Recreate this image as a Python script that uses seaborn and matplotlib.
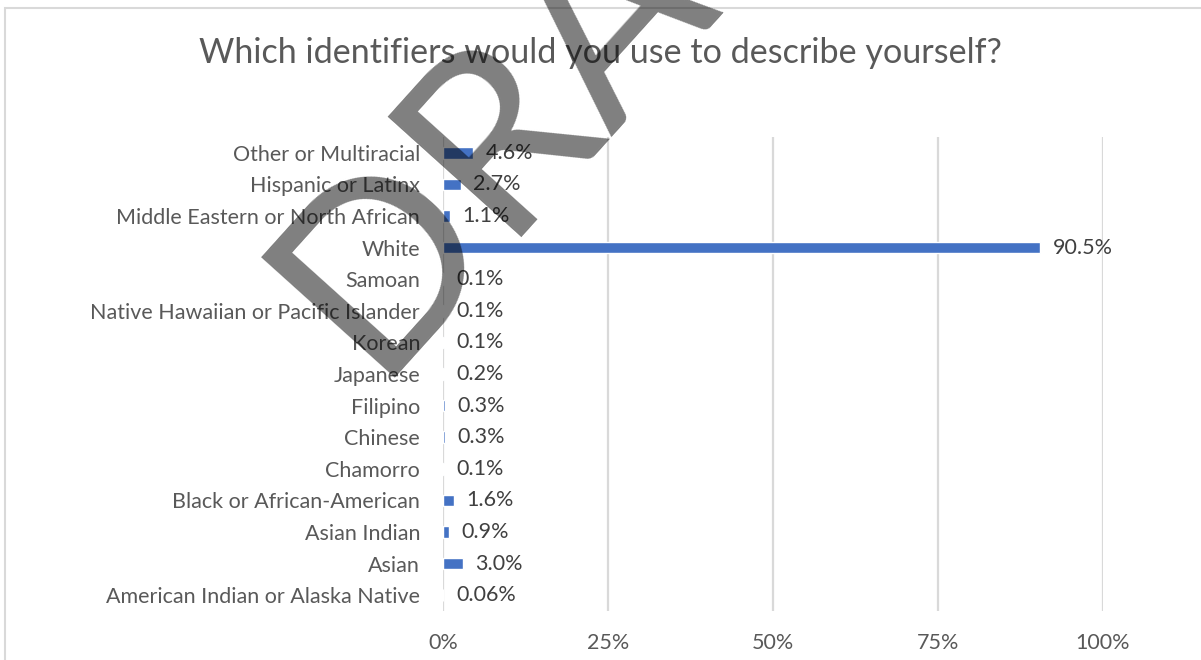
import matplotlib
matplotlib.use("Agg")
import matplotlib.pyplot as plt
import seaborn as sns
from matplotlib.patches import Rectangle

# data, top to bottom as in the chart
categories = [
    "Other or Multiracial",
    "Hispanic or Latinx",
    "Middle Eastern or North African",
    "White",
    "Samoan",
    "Native Hawaiian or Pacific Islander",
    "Korean",
    "Japanese",
    "Filipino",
    "Chinese",
    "Chamorro",
    "Black or African-American",
    "Asian Indian",
    "Asian",
    "American Indian or Alaska Native",
]
percents = [4.6, 2.7, 1.1, 90.5, 0.1, 0.1, 0.1, 0.2, 0.3, 0.3, 0.1, 1.6, 0.9, 3.0, 0.06]
x_ticks = [0, 25, 50, 75, 100]
title = "Which identifiers would you use to describe yourself?"

sns.set_theme(style="white")
plt.rcParams["font.family"] = ["Lato", "DejaVu Sans"]

fig = plt.figure(figsize=(12.01, 6.6), dpi=100)
ax = fig.add_axes([443 / 1201, 1 - 611 / 660, 660 / 1201, 474 / 660])

sns.barplot(x=percents, y=categories, orient="h", color="#4472C4",
            width=0.37, saturation=1, ax=ax)

ax.bar_label(ax.containers[0], labels=[f"{v}%" for v in percents],
             padding=9, fontsize=15.5, color="#404040")

ax.set_xlim(0, 100)
ax.set_ylim(len(categories) - 0.5, -0.5)
ax.set_xticks(x_ticks)
ax.set_xticklabels([f"{t}%" for t in x_ticks])
ax.tick_params(axis="x", length=0, pad=16, labelsize=15.5, labelcolor="#595959")
ax.tick_params(axis="y", length=0, pad=16.5, labelsize=15.5, labelcolor="#595959")
ax.set_xlabel("")
ax.set_ylabel("")
ax.xaxis.grid(True, color="#D9D9D9", linewidth=1.6)
ax.set_axisbelow(True)
for s in ax.spines.values():
    s.set_visible(False)

fig.text(0.5, 1 - 53 / 660, title, ha="center", va="center",
         fontsize=24.6, color="#595959")

# chart frame
fig.patches.append(Rectangle((5 / 1201, -0.1), 1.2, 1.1 - 8 / 660,
                             transform=fig.transFigure, fill=False,
                             edgecolor="#D9D9D9", linewidth=1.5))

# watermark
fig.text(372 / 1201, 1 - 378 / 660, "DRAFT", rotation=48, ha="left", va="baseline",
         fontsize=180, color="black", alpha=0.5, zorder=10,
         rotation_mode="anchor")

fig.savefig("out.png", dpi=100)
